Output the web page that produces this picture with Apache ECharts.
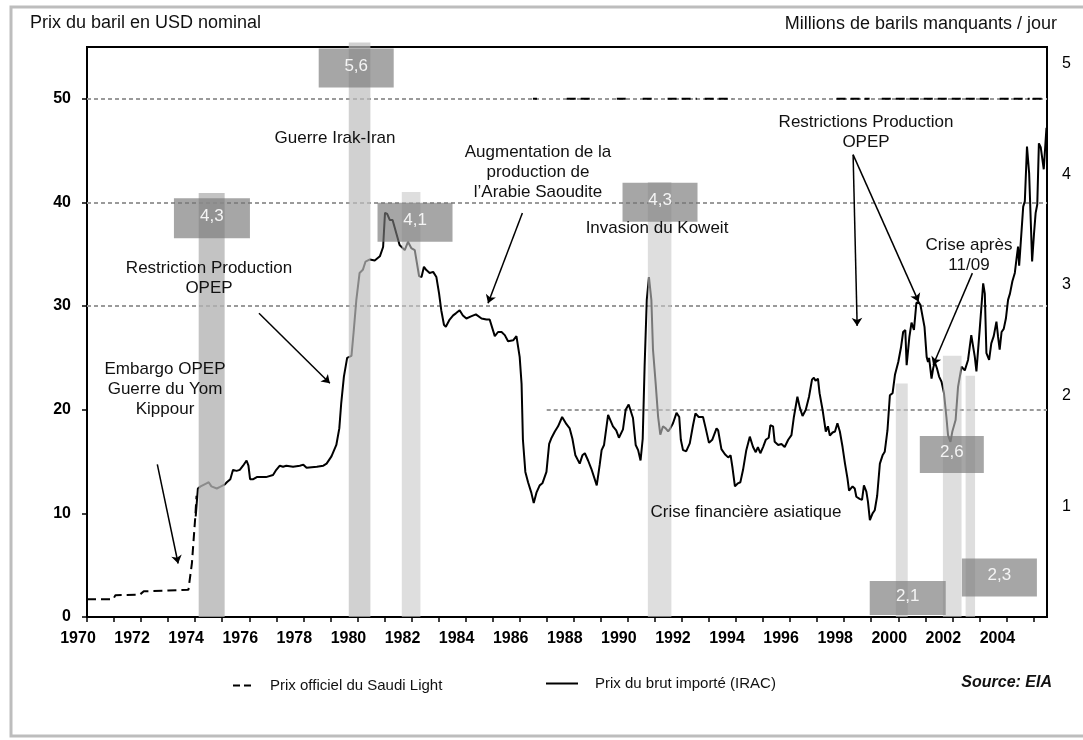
<!DOCTYPE html>
<html>
<head>
<meta charset="utf-8">
<script src="https://cdn.jsdelivr.net/npm/echarts@6/dist/echarts.min.js"></script>
<style>
  html, body { margin: 0; background: #fff; }
  #chart { width: 1083px; height: 740px; }
</style>
</head>
<body>
<div id="chart"></div>
<script>
// axe des abscisses
const xTicks = [1970, 1971, 1972, 1973, 1974, 1975, 1976, 1977, 1978, 1979, 1980, 1981,
  1982, 1983, 1984, 1985, 1986, 1987, 1988, 1989, 1990, 1991, 1992, 1993, 1994, 1995,
  1996, 1997, 1998, 1999, 2000, 2001, 2002, 2003, 2004, 2005];
const xLabels = [1970, 1972, 1974, 1976, 1978, 1980, 1982, 1984, 1986, 1988, 1990,
  1992, 1994, 1996, 1998, 2000, 2002, 2004];
const leftTicks = [0, 10, 20, 30, 40, 50];
const rightTicks = [1, 2, 3, 4, 5];

// Prix du brut importé (IRAC)
const irakYears = [1974.02, 1974.1, 1974.2, 1974.42, 1974.5, 1974.6, 1974.8, 1974.92, 1975.1, 1975.17,
  1975.3, 1975.4, 1975.53, 1975.65, 1975.77, 1975.9, 1975.97, 1976.03, 1976.15, 1976.28,
  1976.62, 1976.88, 1977.0, 1977.13, 1977.25, 1977.37, 1977.62, 1977.87, 1978.0, 1978.12,
  1978.5, 1978.74, 1978.86, 1979.04, 1979.22, 1979.33, 1979.4, 1979.5, 1979.62, 1979.78,
  1979.86, 1979.96, 1980.08, 1980.2, 1980.3, 1980.46, 1980.64, 1980.83, 1980.95, 1981.02,
  1981.1, 1981.2, 1981.3, 1981.44, 1981.56, 1981.75, 1981.87, 1981.99, 1982.12, 1982.28,
  1982.37, 1982.46, 1982.54, 1982.67, 1982.8, 1982.92, 1983.02, 1983.1, 1983.2, 1983.27,
  1983.41, 1983.54, 1983.64, 1983.78, 1983.9, 1984.03, 1984.2, 1984.38, 1984.59, 1984.77,
  1984.89, 1985.08, 1985.2, 1985.33, 1985.45, 1985.57, 1985.76, 1985.88, 1986.0, 1986.07,
  1986.12, 1986.21, 1986.31, 1986.43, 1986.52, 1986.62, 1986.74, 1986.84, 1986.99, 1987.09,
  1987.18, 1987.3, 1987.42, 1987.57, 1987.64, 1987.73, 1987.85, 1987.95, 1988.06, 1988.13,
  1988.22, 1988.32, 1988.41, 1988.53, 1988.65, 1988.85, 1988.96, 1989.03, 1989.12, 1989.27,
  1989.45, 1989.57, 1989.67, 1989.82, 1989.92, 1990.03, 1990.19, 1990.29, 1990.38, 1990.47,
  1990.55, 1990.62, 1990.7, 1990.78, 1990.87, 1990.93, 1991.03, 1991.12, 1991.2, 1991.3,
  1991.4, 1991.49, 1991.57, 1991.67, 1991.8, 1991.9, 1991.96, 1992.04, 1992.16, 1992.29,
  1992.41, 1992.5, 1992.62, 1992.78, 1992.88, 1993.0, 1993.12, 1993.28, 1993.34, 1993.46,
  1993.59, 1993.71, 1993.8, 1993.87, 1993.96, 1994.07, 1994.16, 1994.26, 1994.38, 1994.51,
  1994.63, 1994.73, 1994.81, 1994.9, 1995.0, 1995.1, 1995.21, 1995.27, 1995.37, 1995.43,
  1995.56, 1995.68, 1995.8, 1995.93, 1996.05, 1996.14, 1996.27, 1996.36, 1996.46, 1996.58,
  1996.7, 1996.81, 1996.88, 1996.94, 1997.03, 1997.09, 1997.2, 1997.32, 1997.4, 1997.47,
  1997.57, 1997.66, 1997.75, 1997.84, 1997.94, 1998.03, 1998.12, 1998.18, 1998.31, 1998.39,
  1998.45, 1998.57, 1998.66, 1998.73, 1998.82, 1998.88, 1998.95, 1999.05, 1999.13, 1999.22,
  1999.32, 1999.42, 1999.5, 1999.6, 1999.69, 1999.79, 1999.88, 2000.0, 2000.1, 2000.18,
  2000.26, 2000.31, 2000.41, 2000.49, 2000.58, 2000.67, 2000.75, 2000.82, 2000.88, 2000.97,
  2001.05, 2001.1, 2001.14, 2001.23, 2001.29, 2001.35, 2001.43, 2001.51, 2001.6, 2001.69,
  2001.78, 2001.84, 2001.93, 2002.0, 2002.12, 2002.21, 2002.34, 2002.46, 2002.58, 2002.7,
  2002.83, 2002.89, 2003.01, 2003.14, 2003.2, 2003.26, 2003.36, 2003.44, 2003.53, 2003.63,
  2003.69, 2003.75, 2003.82, 2003.9, 2003.98, 2004.06, 2004.13, 2004.22, 2004.31, 2004.37,
  2004.43, 2004.47, 2004.5, 2004.62, 2004.68, 2004.76, 2004.84, 2004.95, 2005.02, 2005.08,
  2005.14, 2005.2, 2005.27, 2005.38, 2005.48];
const irakPrices = [9.7, 12.4, 12.6, 12.9, 13.0, 12.6, 12.4, 12.55, 12.8, 13.0,
  13.3, 14.2, 14.1, 14.2, 14.6, 15.1, 14.6, 13.3, 13.3, 13.5,
  13.5, 13.7, 14.2, 14.6, 14.5, 14.6, 14.5, 14.6, 14.7, 14.4,
  14.5, 14.6, 14.8, 15.5, 16.6, 18.2, 20.6, 23.2, 25.0, 25.2,
  27.5, 30.6, 33.2, 33.5, 34.3, 34.5, 34.4, 34.8, 35.7, 39.0,
  38.9, 38.3, 38.3, 37.0, 35.9, 35.4, 36.2, 35.6, 35.4, 32.9,
  32.8, 33.8, 33.5, 33.2, 33.3, 32.8, 31.2, 29.6, 28.2, 28.0,
  28.7, 29.1, 29.3, 29.6, 29.1, 28.8, 29.0, 29.2, 28.8, 28.7,
  28.7, 27.1, 27.5, 27.5, 27.2, 26.6, 26.7, 27.1, 25.1, 22.5,
  17.1, 14.0, 13.0, 12.0, 11.0, 12.0, 12.7, 12.9, 14.0, 16.7,
  17.3, 17.9, 18.4, 19.3, 19.3, 18.6, 18.2, 17.2, 15.6, 15.5,
  14.8, 15.6, 15.8, 15.1, 14.3, 12.7, 14.7, 16.1, 16.6, 19.5,
  18.4, 18.0, 17.3, 18.1, 20.0, 20.5, 19.2, 16.6, 16.1, 15.1,
  17.2, 24.2, 30.6, 32.8, 30.6, 25.8, 22.5, 19.3, 17.6, 18.4,
  18.2, 17.9, 18.2, 18.7, 19.7, 19.3, 17.1, 16.1, 16.0, 16.75,
  18.5, 19.65, 19.3, 19.3, 18.2, 16.8, 17.1, 18.2, 18.0, 16.2,
  15.7, 15.4, 15.6, 14.4, 12.6, 12.9, 13.0, 14.2, 16.1, 17.4,
  16.4, 15.9, 16.4, 15.8, 16.4, 17.1, 17.3, 18.5, 18.4, 16.9,
  16.6, 16.7, 16.4, 17.1, 17.55, 19.3, 21.25, 20.2, 19.4, 20.0,
  21.25, 22.9, 23.1, 22.8, 23.0, 21.6, 20.0, 17.9, 18.4, 17.5,
  17.8, 17.9, 18.7, 17.9, 16.4, 14.8, 13.4, 12.2, 12.6, 12.4,
  11.6, 11.4, 11.3, 12.7, 12.1, 11.1, 9.35, 10.0, 10.3, 11.7,
  14.8, 15.6, 15.95, 18.0, 21.4, 21.6, 23.4, 24.6, 26.0, 27.5,
  27.7, 24.3, 27.0, 28.4, 27.7, 30.3, 30.4, 30.1, 30.0, 28.0,
  25.1, 24.6, 25.0, 23.0, 24.0, 24.6, 24.0, 23.2, 22.7, 21.6,
  19.3, 17.55, 16.9, 17.9, 19.0, 22.2, 24.15, 23.8, 24.8, 27.2,
  25.1, 23.7, 27.7, 32.2, 31.2, 25.45, 24.8, 26.4, 27.1, 28.5,
  27.05, 25.8, 27.5, 27.8, 28.8, 30.6, 31.2, 32.4, 33.2, 34.5,
  35.75, 33.9, 35.0, 39.6, 40.1, 45.4, 42.8, 34.3, 37.0, 39.0,
  39.8, 45.7, 45.3, 43.2, 47.2];

// Prix officiel du Saudi Light (null = interruption du trait)
const saudiYears = [1970.0, 1970.97, 1971.05, 1971.95, 1972.1, 1973.0, 1973.75, 1973.88, 1974.0, 1974.05,
  null, 1986.49, 1986.64, null, 1987.74, 1988.59, null, 1989.59, 1990.07, null,
  1990.55, 1991.07, null, 1991.47, 1992.55, null, 1992.84, 1993.88, null, 1997.72,
  1998.94, null, 1999.39, 2003.38, null, 2003.75, 2004.86, null, 2004.97, 2005.42];
const saudiPrices = [1.72, 1.72, 2.1, 2.15, 2.48, 2.55, 2.62, 5.2, 9.5, 11.7,
  null, 50, 50, null, 50, 50, null, 50, 50, null,
  50, 50, null, 50, 50, null, 50, 50, null, 50,
  50, null, 50, 50, null, 50, 50, null, 50, 50];

// Barres grises : millions de barils manquants / jour
const disruptionStart = [1974.13, 1979.68, 1981.64, 1990.74, 1999.91, 2001.65, 2002.49];
const disruptionEnd = [1975.09, 1980.48, 1982.33, 1991.61, 2000.35, 2002.34, 2002.84];
const disruptionHeight = [3.83, 5.19, 3.84, 3.93, 2.11, 2.36, 2.18];
const disruptionLabels = ['4,3', '5,6', '4,1', '4,3', '2,1', '2,6', '2,3'];

// position des étiquettes (année, prix) et taille des cartouches
const labelYear = [1974.62, 1979.955, 1982.13, 1991.19, 2000.35, 2001.98, 2003.74];
const labelPrice = [38.48, 52.98, 38.09, 40.03, 1.84, 15.68, 3.82];
const labelBoxW = [76, 75, 75, 75, 76, 64, 75];
const labelBoxH = [40, 39, 39, 39, 34, 37, 38];
const barColors = ['rgba(178,178,178,0.78)', 'rgba(190,190,190,0.7)', 'rgba(200,200,200,0.6)',
  'rgba(200,200,200,0.6)', 'rgba(200,200,200,0.6)', 'rgba(200,200,200,0.6)', 'rgba(200,200,200,0.6)'];

// lignes de repère pointillées [prix, début, fin]
const gridLevels = [[50, 1970, 2005.5], [40, 1970, 2005.5], [30, 1970, 2005.5], [20, 1987.0, 2005.5]];

// flèches [année départ, prix départ, année arrivée, prix arrivée]
const arrows = [
  [1972.60, 14.72, 1973.37, 5.16],
  [1976.36, 29.31, 1978.98, 22.55],
  [1986.10, 38.98, 1984.83, 30.28],
  [1998.33, 44.61, 1998.48, 28.09],
  [1998.33, 44.61, 2000.75, 30.43],
  [2002.74, 33.18, 2001.29, 24.32]
];

const FONT = 'Liberation Sans, Arial, sans-serif';
const chart = echarts.init(document.getElementById('chart'));

function annot(text, x, y, align, font) {
  return {
    type: 'text',
    z: 50,
    silent: true,
    style: {
      text: text, x: x, y: y,
      fill: '#111',
      font: font || '17px ' + FONT,
      align: align || 'center',
      verticalAlign: 'middle',
      lineHeight: 20
    }
  };
}

chart.setOption({
  animation: false,
  backgroundColor: '#fff',
  grid: {
    left: 87, top: 47, width: 960, height: 570,
    show: true, borderColor: '#000', borderWidth: 2, backgroundColor: 'transparent'
  },
  legend: [
    {
      data: [{ name: 'Prix officiel du Saudi Light', icon: 'path://M0,0H7V2H0Z M11,0H18V2H11Z' }],
      left: 228, top: 673, itemWidth: 18, itemHeight: 2,
      textStyle: { fontFamily: FONT, fontSize: 15, color: '#111', padding: [0, 0, 0, 14] }
    },
    {
      data: [{ name: 'Prix du brut importé (IRAC)', icon: 'path://M0,0H32V2H0Z' }],
      left: 541, top: 671, itemWidth: 32, itemHeight: 2,
      textStyle: { fontFamily: FONT, fontSize: 15, color: '#111', padding: [0, 0, 0, 12] }
    }
  ],
  xAxis: {
    type: 'value', min: 1970, max: 2005.5,
    axisLine: { lineStyle: { color: '#000', width: 2 } },
    axisTick: { show: true, customValues: xTicks, length: 5, lineStyle: { color: '#000', width: 1.5 } },
    axisLabel: {
      customValues: xLabels, margin: 14, color: '#000',
      fontFamily: FONT, fontSize: 16, fontWeight: 'bold',
      padding: [0, 18, 0, 0],
      formatter: v => String(v)
    },
    splitLine: { show: false }
  },
  yAxis: [
    {
      type: 'value', min: 0, max: 55,
      axisLine: { show: true, lineStyle: { color: '#000', width: 2 } },
      axisTick: { show: true, customValues: leftTicks, length: 5, lineStyle: { color: '#000', width: 1.5 } },
      axisLabel: { customValues: leftTicks, margin: 16, color: '#000', fontFamily: FONT, fontSize: 16, fontWeight: 'bold' },
      splitLine: { show: false }
    },
    {
      type: 'value', min: 0, max: 5.15, position: 'right',
      axisLine: { show: true, lineStyle: { color: '#000', width: 2 } },
      axisTick: { show: false },
      axisLabel: { customValues: rightTicks, margin: 15, color: '#000', fontFamily: FONT, fontSize: 16 },
      splitLine: { show: false }
    }
  ],
  series: [
    {
      name: 'grille', type: 'line', data: [], z: 1, silent: true,
      markLine: {
        silent: true, symbol: 'none', animation: false, z: 1,
        label: { show: false },
        lineStyle: { color: '#9a9a9a', width: 2, type: [4, 3] },
        data: gridLevels.map(g => [{ coord: [g[1], g[0]] }, { coord: [g[2], g[0]] }])
      }
    },
    {
      name: 'Prix officiel du Saudi Light', type: 'line', z: 2,
      symbol: 'none', connectNulls: false,
      lineStyle: { color: '#000', width: 2, type: [9, 5] },
      itemStyle: { color: '#000' },
      data: saudiYears.map((y, i) => y === null ? [null, null] : [y, saudiPrices[i]])
    },
    {
      name: 'Prix du brut importé (IRAC)', type: 'line', z: 2,
      symbol: 'none',
      lineStyle: { color: '#000', width: 2 },
      itemStyle: { color: '#000' },
      data: irakYears.map((y, i) => [y, irakPrices[i]])
    },
    {
      name: 'barils manquants', type: 'custom', yAxisIndex: 1, z: 3, silent: true,
      data: disruptionStart.map((s, i) => [s, disruptionEnd[i], disruptionHeight[i]]),
      renderItem: function (params, api) {
        const p0 = api.coord([api.value(0), 0]);
        const p1 = api.coord([api.value(1), api.value(2)]);
        return {
          type: 'rect',
          shape: { x: p0[0], y: p1[1], width: p1[0] - p0[0], height: p0[1] - p1[1] },
          style: { fill: barColors[params.dataIndex] }
        };
      }
    },
    {
      name: 'étiquettes', type: 'custom', z: 4, silent: true,
      data: labelYear.map((y, i) => [y, labelPrice[i]]),
      renderItem: function (params, api) {
        const i = params.dataIndex;
        const c = api.coord([api.value(0), api.value(1)]);
        const w = labelBoxW[i], h = labelBoxH[i];
        return {
          type: 'group',
          children: [
            { type: 'rect', shape: { x: c[0] - w / 2, y: c[1] - h / 2, width: w, height: h },
              style: { fill: 'rgba(120,120,120,0.66)' } },
            { type: 'text', style: { text: disruptionLabels[i], x: c[0], y: c[1] - 2,
              fill: '#f4f4f4', font: '17px ' + FONT, align: 'center', verticalAlign: 'middle' } }
          ]
        };
      }
    },
    {
      name: 'flèches', type: 'line', data: [], z: 5, silent: true,
      markLine: {
        silent: true, animation: false,
        symbol: ['none', 'arrow'], symbolSize: 8,
        label: { show: false },
        lineStyle: { color: '#000', width: 1.5, type: 'solid' },
        data: arrows.map(a => [{ coord: [a[0], a[1]] }, { coord: [a[2], a[3]] }])
      }
    }
  ],
  graphic: [
    { type: 'rect', z: 0, silent: true,
      shape: { x: 11, y: 7, width: 1100, height: 729 },
      style: { fill: 'none', stroke: '#bdbdbd', lineWidth: 3 } },
    annot('Prix du baril en USD nominal', 30, 23, 'left', '18px ' + FONT),
    annot('Millions de barils manquants / jour', 1057, 24, 'right', '18px ' + FONT),
    annot('Guerre Irak-Iran', 335, 138),
    annot('Restriction Production\nOPEP', 209, 278),
    annot('Embargo OPEP\nGuerre du Yom\nKippour', 165, 389),
    annot('Augmentation de la\nproduction de\nl’Arabie Saoudite', 538, 172),
    annot('Invasion du Koweit', 657, 228),
    annot('Restrictions Production\nOPEP', 866, 132),
    annot('Crise après\n11/09', 969, 255),
    annot('Crise financière asiatique', 746, 512),
    annot('Source: EIA', 1052, 683, 'right', 'italic bold 16px ' + FONT)
  ]
});
</script>
</body>
</html>
